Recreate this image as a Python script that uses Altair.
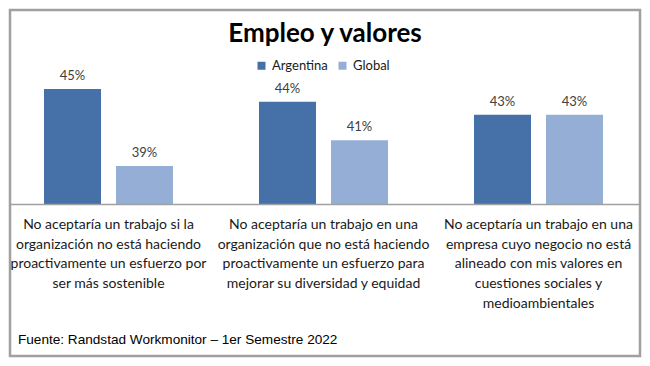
import altair as alt
import pandas as pd

categories = [
    "No aceptaría un trabajo si la|organización no está haciendo|proactivamente un esfuerzo por|ser más sostenible",
    "No aceptaría un trabajo en una|organización que no está haciendo|proactivamente un esfuerzo para|mejorar su diversidad y equidad",
    "No aceptaría un trabajo en una|empresa cuyo negocio no está|alineado con mis valores en|cuestiones sociales y|medioambientales",
]
series = ["Argentina", "Global"]
argentina = [45, 44, 43]
global_vals = [39, 41, 43]
colors = ["#4671A8", "#95AED6"]
title_text = "Empleo y valores"
source_text = "Fuente: Randstad Workmonitor – 1er Semestre 2022"

rows = []
for c, a, g in zip(categories, argentina, global_vals):
    rows.append({"cat": c, "serie": "Argentina", "valor": a, "label": f"{a}%"})
    rows.append({"cat": c, "serie": "Global", "valor": g, "label": f"{g}%"})
df = pd.DataFrame(rows)

W, H = 630, 346
ybase = 36
yscale = alt.Scale(domain=[24.19, 51.157], zero=False, nice=False)
xscale = alt.Scale(domain=categories, range=[-9, 636], paddingInner=0, paddingOuter=0)
xoff = alt.Scale(domain=series, paddingInner=0.2083, paddingOuter=0.597)

base = alt.Chart(df).encode(
    x=alt.X(
        "cat:N",
        scale=xscale,
        sort=categories,
        axis=alt.Axis(
            title=None, orient="bottom", offset=-151.5, domain=False, ticks=False,
            labelAngle=0, labelExpr="split(datum.label, '|')", labelFont="Lato",
            labelFontSize=14, labelColor="#1a1a1a", labelLineHeight=19.7,
            labelPadding=13, labelLimit=400, labelOverlap=False, labelFlush=False,
            labelBound=False, grid=False,
        ),
    ),
    xOffset=alt.XOffset("serie:N", scale=xoff, sort=series),
)

bars = base.mark_bar().encode(
    y=alt.Y("valor:Q", scale=yscale, axis=None),
    y2=alt.datum(ybase),
    color=alt.Color(
        "serie:N",
        scale=alt.Scale(domain=series, range=colors),
        legend=alt.Legend(
            orient="none", legendX=245, legendY=49, direction="horizontal",
            title=None, symbolType="square", symbolSize=64, labelFont="Lato",
            labelFontSize=13, labelColor="#1a1a1a", columnPadding=8,
            symbolStrokeWidth=0, labelOffset=4,
        ),
    ),
)

labels = base.mark_text(
    baseline="bottom", dy=-6, font="Lato", fontSize=13, color="#404040"
).encode(
    y=alt.Y("valor:Q", scale=yscale, axis=None),
    text="label:N",
)

rule = alt.Chart(pd.DataFrame({"v": [ybase]})).mark_rule(
    color="#a0a0a0", strokeWidth=1.5
).encode(
    y=alt.Y("v:Q", scale=yscale, axis=None),
    x=alt.value(0),
    x2=alt.value(W),
)

source = alt.Chart(pd.DataFrame({"t": [source_text]})).mark_text(
    align="left", baseline="middle", font="Liberation Sans", fontSize=13.6, color="#000000"
).encode(
    text="t:N",
    x=alt.value(8),
    y=alt.value(330),
)

chart = alt.layer(bars, labels, rule, source).properties(
    width=W,
    height=H,
    padding=2,
    autosize="none",
    title=alt.Title(
        title_text, font="Lato", fontSize=26, fontWeight="bold", color="#000000",
        offset=-37, anchor="middle",
    ),
).configure_view(stroke="#a0a0a0", strokeWidth=2.5)

chart.save("out.html", embed_options={"renderer": "svg", "actions": False})
